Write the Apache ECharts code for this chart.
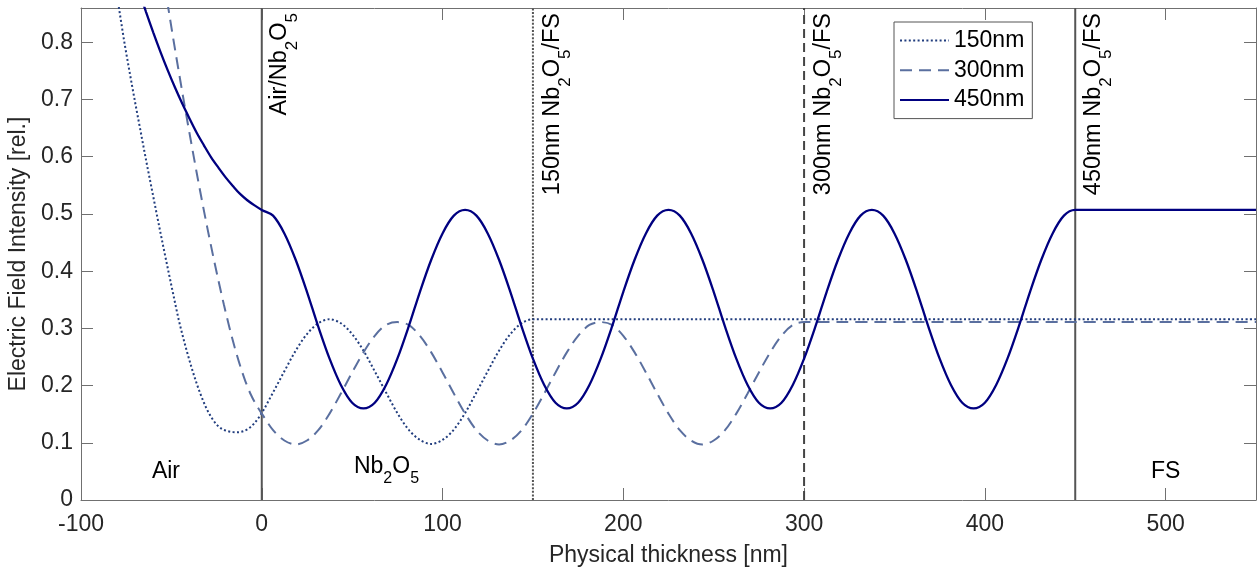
<!DOCTYPE html>
<html>
<head>
<meta charset="utf-8">
<script src="https://cdn.jsdelivr.net/npm/echarts@6/dist/echarts.min.js"></script>
<style>
html,body{margin:0;padding:0;background:#fff;}
#chart{width:1257px;height:570px;}
</style>
</head>
<body>
<div id="chart"></div>
<script>
// ---------------- data ----------------
const xRange = [-100, 550];
const xStep = 100;
const yRange = [0, 0.86];
const yStep = 0.1;
const seriesNames = ['150nm', '300nm', '450nm'];

// Air side (x < 0)
const air150X = [-81, -79, -76, -73, -70, -67, -64, -61, -58, -55, -52, -49, -46, -43, -40, -37, -34, -31, -28, -25, -22, -19, -16, -13, -10, -7, -4];
const air150Y = [0.900, 0.860, 0.800, 0.746, 0.694, 0.644, 0.594, 0.546, 0.498, 0.451, 0.405, 0.360, 0.316, 0.278, 0.244, 0.213, 0.186, 0.163, 0.145, 0.132, 0.124, 0.1205, 0.1188, 0.1185, 0.1205, 0.1255, 0.1345];
const air300X = [-54, -51, -48, -45, -42, -39, -36, -33, -30, -27, -24, -21, -18, -15, -12, -9, -6, -3];
const air300Y = [0.905, 0.846, 0.788, 0.732, 0.677, 0.624, 0.572, 0.522, 0.474, 0.428, 0.384, 0.342, 0.303, 0.267, 0.235, 0.207, 0.184, 0.166];
const air450X = [-68, -64, -60, -56, -52, -48, -44, -40, -36, -32, -28, -24, -20, -16, -12, -8, -4];
const air450Y = [0.890, 0.853, 0.817, 0.783, 0.751, 0.721, 0.693, 0.667, 0.642, 0.620, 0.599, 0.581, 0.564, 0.549, 0.535, 0.524, 0.515];

// Inside the Nb2O5 film
const filmX = [0, 6.25, 12.5, 18.75, 25, 31.25, 37.5, 43.75, 50, 56.25, 62.5, 68.75, 75, 81.25, 87.5, 93.75,
  100, 106.25, 112.5, 118.75, 125, 131.25, 137.5, 143.75, 150, 156.25, 162.5, 168.75, 175, 181.25, 187.5, 193.75,
  200, 206.25, 212.5, 218.75, 225, 231.25, 237.5, 243.75, 250, 256.25, 262.5, 268.75, 275, 281.25, 287.5, 293.75,
  300, 306.25, 312.5, 318.75, 325, 331.25, 337.5, 343.75, 350, 356.25, 362.5, 368.75, 375, 381.25, 387.5, 393.75,
  400, 406.25, 412.5, 418.75, 425, 431.25, 437.5, 443.75, 450];
const film150 = [0.152, 0.188, 0.225, 0.261, 0.290, 0.309, 0.316, 0.309, 0.290, 0.261, 0.225, 0.188, 0.152,
  0.123, 0.105, 0.098, 0.105, 0.123, 0.152, 0.188, 0.225, 0.261, 0.290, 0.309, 0.316];
const film300 = [0.151, 0.122, 0.104, 0.097, 0.104, 0.122, 0.151, 0.186, 0.223, 0.258, 0.287, 0.306,
  0.311, 0.306, 0.287, 0.258, 0.223, 0.186, 0.151, 0.122, 0.104, 0.097, 0.104, 0.122, 0.151, 0.186, 0.223, 0.258, 0.287, 0.306,
  0.311, 0.306, 0.287, 0.258, 0.223, 0.186, 0.151, 0.122, 0.104, 0.097, 0.104, 0.122, 0.151, 0.186, 0.223, 0.258, 0.287, 0.306,
  0.311];
const film450 = [
  0.507, 0.497, 0.466, 0.420, 0.364, 0.303, 0.247, 0.201, 0.170, 0.160, 0.170, 0.201, 0.247, 0.303, 0.364, 0.420, 0.466, 0.497,
  0.507, 0.497, 0.466, 0.420, 0.364, 0.303, 0.247, 0.201, 0.170, 0.160, 0.170, 0.201, 0.247, 0.303, 0.364, 0.420, 0.466, 0.497,
  0.507, 0.497, 0.466, 0.420, 0.364, 0.303, 0.247, 0.201, 0.170, 0.160, 0.170, 0.201, 0.247, 0.303, 0.364, 0.420, 0.466, 0.497,
  0.507, 0.497, 0.466, 0.420, 0.364, 0.303, 0.247, 0.201, 0.170, 0.160, 0.170, 0.201, 0.247, 0.303, 0.364, 0.420, 0.466, 0.497,
  0.507];

// Fused-silica substrate (flat to the right edge)
const substrateX = [550];
const sub150Y = [0.316];
const sub300Y = [0.311];
const sub450Y = [0.507];

// Interfaces and labels
const interfaces = [0, 150, 300, 450];
const interfaceLabels = ['Air/Nb{s|2}O{s|5}', '150nm Nb{s|2}O{s|5}/FS', '300nm Nb{s|2}O{s|5}/FS', '450nm Nb{s|2}O{s|5}/FS'];
const regionNames = ['Air', 'Nb{s|2}O{s|5}', 'FS'];
const regionX = [-53, 69, 500];
const regionY = [0.05, 0.059, 0.05];

// ---------------- styles / layout ----------------
const FONT = '"Liberation Sans", Arial, Helvetica, sans-serif';
const FS = 23;
const AX = '#707070';
const TXT = '#262626';
const curveStyles = [
  { color: '#213d7e', width: 2, type: [2, 2.4] },
  { color: '#5a6f9f', width: 2, type: [12, 7] },
  { color: '#000080', width: 2.3, type: 'solid' }
];
const ifaceStyles = [
  { color: '#555555', width: 2, type: 'solid' },
  { color: '#555555', width: 2, type: [2, 1.6] },
  { color: '#444444', width: 2, type: [9, 5] },
  { color: '#555555', width: 2, type: 'solid' }
];
const ifaceLabelOffset = [9, 10.5, 10.5, 9.5];

function zip(xs, ys) { return ys.map((y, i) => [xs[i], y]); }

const curveData = [
  zip(air150X, air150Y).concat(zip(filmX, film150), zip(substrateX, sub150Y)),
  zip(air300X, air300Y).concat(zip(filmX, film300), zip(substrateX, sub300Y)),
  zip(air450X, air450Y).concat(zip(filmX, film450), zip(substrateX, sub450Y))
];

const chart = echarts.init(document.getElementById('chart'), null, { renderer: 'canvas' });

const series = [];
interfaces.forEach((x, i) => {
  series.push({
    name: 'iface' + i, type: 'line', silent: true, symbol: 'none', z: 1,
    data: [[x, yRange[0]], [x, yRange[1]]],
    lineStyle: { color: ifaceStyles[i].color, width: ifaceStyles[i].width, type: ifaceStyles[i].type, cap: 'butt' }
  });
});
seriesNames.forEach((n, i) => {
  series.push({
    name: n, type: 'line', symbol: 'none', smooth: 0.33, z: 3,
    data: curveData[i],
    itemStyle: { color: curveStyles[i].color },
    lineStyle: { color: curveStyles[i].color, width: curveStyles[i].width, type: curveStyles[i].type, cap: 'butt' }
  });
});

const axisCommon = {
  axisLine: { show: true, onZero: false, lineStyle: { color: AX, width: 1 } },
  axisTick: { show: true, inside: true, length: 12, lineStyle: { color: AX, width: 1 } },
  splitLine: { show: false }
};

const option = {
  animation: false,
  backgroundColor: '#ffffff',
  grid: { left: 81, right: 1, top: 8, bottom: 70, containLabel: false, outerBoundsMode: 'none' },
  legend: {
    data: seriesNames,
    orient: 'vertical', left: 894, top: 22,
    itemWidth: 49, itemHeight: 14, itemGap: 6.8,
    padding: [7, 8, 7, 5],
    borderColor: '#555555', borderWidth: 1, backgroundColor: '#ffffff',
    itemStyle: { opacity: 0, borderWidth: 0 },
    textStyle: { fontFamily: FONT, fontSize: FS, color: '#000', lineHeight: 23 }
  },
  xAxis: [
    Object.assign({
      type: 'value', min: xRange[0], max: xRange[1], interval: xStep, position: 'bottom',
      name: 'Physical thickness [nm]', nameLocation: 'middle', nameGap: 44,
      nameTextStyle: { fontFamily: FONT, fontSize: FS, color: TXT },
      axisLabel: { show: true, margin: 13, fontFamily: FONT, fontSize: FS, color: TXT, showMaxLabel: false }
    }, axisCommon),
    Object.assign({
      type: 'value', min: xRange[0], max: xRange[1], interval: xStep, position: 'top',
      axisLabel: { show: false }
    }, axisCommon)
  ],
  yAxis: [
    Object.assign({
      type: 'value', min: yRange[0], max: yRange[1], interval: yStep, position: 'left',
      name: 'Electric Field Intensity [rel.]', nameLocation: 'middle', nameGap: 43,
      nameTextStyle: { fontFamily: FONT, fontSize: FS, color: TXT },
      axisLabel: { show: true, margin: 8, fontFamily: FONT, fontSize: FS, color: TXT, showMaxLabel: false }
    }, axisCommon),
    Object.assign({
      type: 'value', min: yRange[0], max: yRange[1], interval: yStep, position: 'right',
      axisLabel: { show: false }
    }, axisCommon)
  ],
  series: series
};

chart.setOption(option);

const richSub = { s: { fontFamily: FONT, fontSize: 16, lineHeight: 16, verticalAlign: 'bottom', fill: '#000' } };
const graphics = [];
regionNames.forEach((t, i) => {
  const p = chart.convertToPixel({ xAxisIndex: 0, yAxisIndex: 0 }, [regionX[i], regionY[i]]);
  graphics.push({
    type: 'text', x: p[0], y: p[1], silent: true, z: 10,
    style: {
      text: t, fontFamily: FONT, fontSize: FS, lineHeight: 41, fill: '#000',
      align: 'center', verticalAlign: 'middle', textAlign: 'center', textVerticalAlign: 'middle',
      rich: richSub
    }
  });
});
const richSubV = { s: { fontFamily: FONT, fontSize: 17, lineHeight: 17, verticalAlign: 'bottom', fill: '#000' } };
interfaces.forEach((x, i) => {
  const p = chart.convertToPixel({ xAxisIndex: 0, yAxisIndex: 0 }, [x, yRange[1]]);
  graphics.push({
    type: 'text', x: p[0] + ifaceLabelOffset[i] + 9, y: p[1] + 5, rotation: Math.PI / 2, silent: true, z: 10,
    style: {
      text: interfaceLabels[i], fontFamily: FONT, fontSize: 23.5, lineHeight: 43, fill: '#000',
      align: 'right', verticalAlign: 'middle', textAlign: 'right', textVerticalAlign: 'middle',
      rich: richSubV
    }
  });
});
chart.setOption({ graphic: graphics });
</script>
</body>
</html>
